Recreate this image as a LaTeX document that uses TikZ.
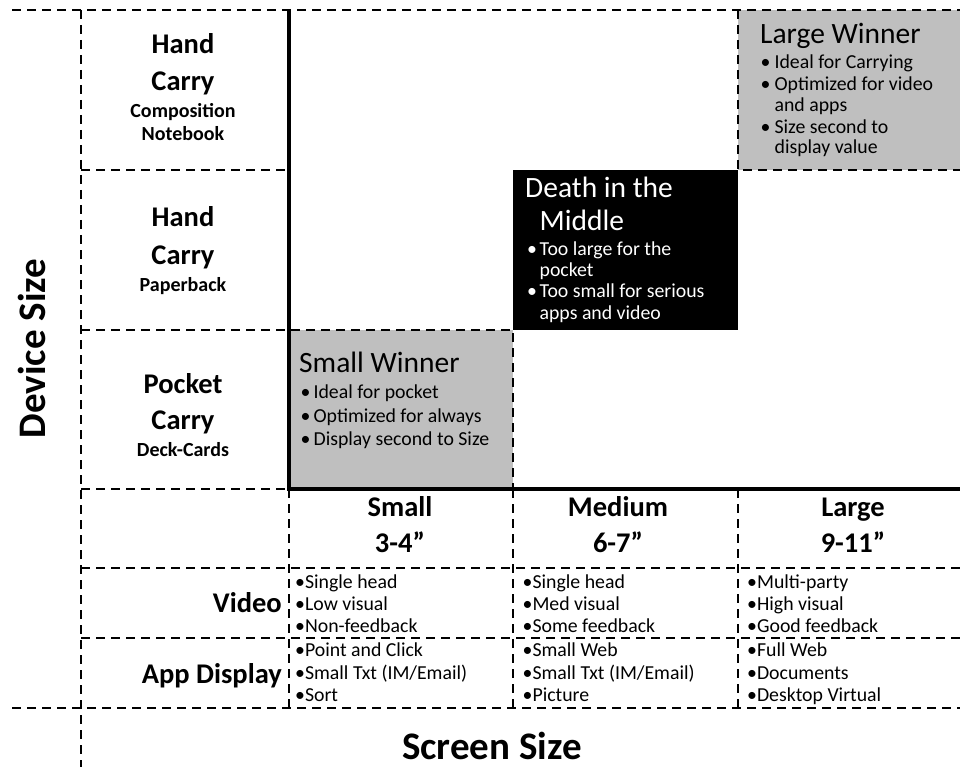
\documentclass[tikz,border=0pt]{standalone}
\usepackage{fontspec}
\setmainfont{Carlito}
\definecolor{boxgray}{HTML}{BFBFBF}
% bullet with a fixed hanging indent
\newcommand\bl[2][13pt]{\makebox[#1][l]{•}#2}
\tikzset{
  grid/.style={line width=2.2pt, dash pattern=on 9pt off 6pt},
  axisline/.style={line width=4pt},
  hdr/.style={font=\bfseries\fontsize{28.5}{34}\selectfont, anchor=base, inner sep=0pt},
  sub/.style={font=\bfseries\fontsize{20}{24}\selectfont, anchor=base, inner sep=0pt},
  big/.style={font=\bfseries\fontsize{39}{46}\selectfont, anchor=base, inner sep=0pt},
  rlab/.style={font=\bfseries\fontsize{28.5}{34}\selectfont, anchor=base east, inner sep=0pt},
  cell/.style={font=\fontsize{19.8}{22}\selectfont, anchor=base west, inner sep=0pt},
  ttl/.style={font=\fontsize{29.5}{32}\selectfont, anchor=base west, inner sep=0pt},
  blt/.style={font=\fontsize{19.8}{22}\selectfont, anchor=base west, inner sep=0pt},
}
\begin{document}
\begin{tikzpicture}[x=1pt, y=-1pt]
\useasboundingbox (0,0) rectangle (960,767);

% shaded quadrants
\fill[boxgray] (289,330) rectangle (513,489);
\fill[black] (513,170) rectangle (738,330);
\fill[boxgray] (738,10) rectangle (960,170);

% dashed grid
\draw[grid] (12,10) -- (960,10);
\draw[grid] (81,10) -- (81,767);
\draw[grid] (12,708) -- (960,708);
\draw[grid] (81,170) -- (289,170);
\draw[grid] (81,330) -- (513,330) -- (513,489);
\draw[grid] (81,489) -- (289,489);
\draw[grid] (738,10) -- (738,170) -- (960,170);
\draw[grid] (81,568) -- (960,568);
\draw[grid] (81,638) -- (960,638);
\draw[grid] (289,489) -- (289,708);
\draw[grid] (513,489) -- (513,708);
\draw[grid] (738,489) -- (738,708);

% axes
\draw[axisline] (289,10) -- (289,489) -- (960,489);

% device size rows
\node[hdr] (r1a) at (183,54) {Hand};
\node[hdr] (r1b) at (183,91) {Carry};
\node[sub] (r1c) at (183,118) {Composition};
\node[sub] (r1d) at (183,141) {Notebook};

\node[hdr] (r2a) at (183,227) {Hand};
\node[hdr] (r2b) at (183,264) {Carry};
\node[sub] (r2c) at (183,291) {Paperback};

\node[hdr] (r3a) at (183,393) {Pocket};
\node[hdr] (r3b) at (183,429) {Carry};
\node[sub] (r3c) at (183,456) {Deck-Cards};

\node[big, rotate=90] (dev) at (45,348.5) {Device Size};

% screen size columns
\node[hdr] (c1a) at (400,516) {Small};
\node[hdr] (c1b) at (400,552) {3-4”};
\node[hdr] (c2a) at (618,516.5) {Medium};
\node[hdr] (c2b) at (618,552.5) {6-7”};
\node[hdr] (c3a) at (853,516.5) {Large};
\node[hdr] (c3b) at (853,552.5) {9-11”};

\node[rlab] (vid) at (282,612) {Video};
\node[rlab] (app) at (282,683) {App Display};

% video / app details
\node[cell] (v1a) at (295,588) {•Single head};
\node[cell] (v1b) at (295,610) {•Low visual};
\node[cell] (v1c) at (295,632) {•Non-feedback};
\node[cell] (a1a) at (295,656) {•Point and Click};
\node[cell] (a1b) at (295,679) {•Small Txt (IM/Email)};
\node[cell] (a1c) at (295,701) {•Sort};

\node[cell] (v2a) at (522.5,588) {•Single head};
\node[cell] (v2b) at (522.5,610) {•Med visual};
\node[cell] (v2c) at (522.5,632) {•Some feedback};
\node[cell] (a2a) at (522.5,656) {•Small Web};
\node[cell] (a2b) at (522.5,679) {•Small Txt (IM/Email)};
\node[cell] (a2c) at (522.5,701) {•Picture};

\node[cell] (v3a) at (747,588) {•Multi-party};
\node[cell] (v3b) at (747,610) {•High visual};
\node[cell] (v3c) at (747,632) {•Good feedback};
\node[cell] (a3a) at (747,656) {•Full Web};
\node[cell] (a3b) at (747,679) {•Documents};
\node[cell] (a3c) at (747,701) {•Desktop Virtual};

\node[big] (scr) at (492,759.5) {Screen Size};

% small winner
\node[ttl] (sw) at (299,372) {Small Winner};
\node[blt] (sw1) at (300.4,398) {\bl{Ideal for pocket}};
\node[blt] (sw2) at (300.4,422) {\bl{Optimized for always}};
\node[blt] (sw3) at (300.4,445) {\bl{Display second to Size}};

% death in the middle
\begin{scope}[text=white]
\node[ttl] (dm) at (525,198) {Death in the};
\node[ttl] (dm2) at (539.5,231) {Middle};
\node[blt] (dm3) at (527,255) {\bl[12.4pt]{Too large for the}};
\node[blt] (dm4) at (539.4,276) {pocket};
\node[blt] (dm5) at (527,297) {\bl[12.4pt]{Too small for serious}};
\node[blt] (dm6) at (539.4,319) {apps and video};
\end{scope}

% large winner
\node[ttl] (lw) at (760,44) {Large Winner};
\node[blt] (lw1) at (760.4,69) {\bl[14pt]{Ideal for Carrying}};
\node[blt] (lw2) at (760.4,91) {\bl[14pt]{Optimized for video}};
\node[blt] (lw3) at (774.4,112) {and apps};
\node[blt] (lw4) at (760.4,134) {\bl[14pt]{Size second to}};
\node[blt] (lw5) at (774.4,154) {display value};
\end{tikzpicture}
\end{document}
